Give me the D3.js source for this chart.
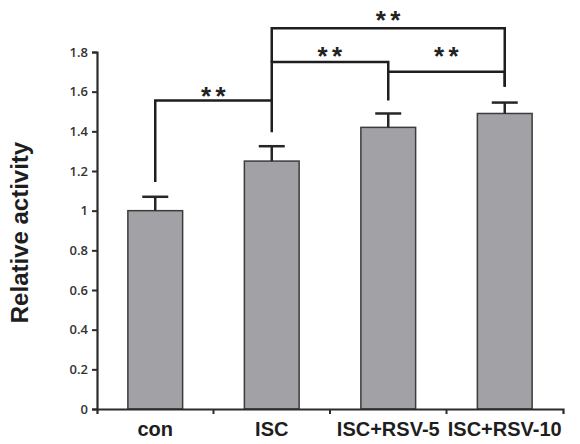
<!DOCTYPE html>
<html>
<head>
<meta charset="utf-8">
<script src="https://cdn.jsdelivr.net/npm/d3@7"></script>
<style>
  body { margin: 0; background: #fff; }
</style>
</head>
<body>
<div id="chart"></div>
<script>
// Data
const groups = ["con", "ISC", "ISC+RSV-5", "ISC+RSV-10"];
const means = [1.0, 1.25, 1.42, 1.49];
const errors = [0.07, 0.075, 0.07, 0.055];
const yTicks = [0, 0.2, 0.4, 0.6, 0.8, 1, 1.2, 1.4, 1.6, 1.8];

// significance brackets (values in y units)
const bracketFrom = ["con", "ISC", "ISC", "ISC+RSV-5"];
const bracketTo = ["ISC", "ISC+RSV-5", "ISC+RSV-10", "ISC+RSV-10"];
const bracketLevel = [1.555, 1.75, 1.92, 1.70];
const bracketFromEnd = [1.145, 1.555, 1.75, 1.70];
const bracketToEnd = [1.395, 1.555, 1.625, 1.625];
const bracketStarY = [1.61, 1.81, 1.99, 1.81];
const bracketLabel = ["**", "**", "**", "**"];

const width = 580, height = 444;
const margin = { top: 52, right: 17, bottom: 35, left: 97 };

const svg = d3.select("#chart")
  .append("svg")
  .attr("width", width)
  .attr("height", height);

const x = d3.scaleBand()
  .domain(groups)
  .range([margin.left, width - margin.right])
  .padding(0);

const y = d3.scaleLinear()
  .domain([0, 1.8])
  .range([height - margin.bottom, margin.top]);

const barW = x.bandwidth() * 0.47;
const cx = g => x(g) + x.bandwidth() / 2;

// bars
svg.append("g")
  .selectAll("rect")
  .data(groups)
  .enter().append("rect")
  .attr("x", d => cx(d) - barW / 2)
  .attr("y", (d, i) => y(means[i]))
  .attr("width", barW)
  .attr("height", (d, i) => y(0) - y(means[i]))
  .attr("fill", "#a2a2a6")
  .attr("stroke", "#3c3c3c")
  .attr("stroke-width", 1.5);

// error bars (upper only)
const err = svg.append("g")
  .attr("stroke", "#262626")
  .attr("stroke-width", 2.5);

groups.forEach((g, i) => {
  err.append("line")
    .attr("x1", cx(g)).attr("x2", cx(g))
    .attr("y1", y(means[i])).attr("y2", y(means[i] + errors[i]));
  err.append("line")
    .attr("x1", cx(g) - 13).attr("x2", cx(g) + 13)
    .attr("y1", y(means[i] + errors[i])).attr("y2", y(means[i] + errors[i]));
});

// y axis
const yAxis = svg.append("g")
  .attr("transform", `translate(${margin.left},0)`)
  .call(d3.axisLeft(y)
    .tickValues(yTicks)
    .tickFormat(d => String(+d.toFixed(1)))
    .tickSize(5)
    .tickPadding(4));

// x axis: labels at band centres, ticks at band edges
const xAxis = svg.append("g")
  .attr("transform", `translate(0,${y(0)})`)
  .call(d3.axisBottom(x).tickSize(0).tickSizeOuter(5).tickPadding(12));

xAxis.selectAll(".tick text")
  .attr("dy", "0.75em")
  .attr("font-family", "Liberation Sans, Arial, sans-serif")
  .attr("font-weight", "bold")
  .attr("font-size", 20)
  .attr("fill", "#1e1e1e");

xAxis.selectAll(".edge")
  .data(groups.slice(1))
  .enter().append("line")
  .attr("class", "edge")
  .attr("x1", d => x(d)).attr("x2", d => x(d))
  .attr("y1", 0).attr("y2", 5)
  .attr("stroke", "#2b2b2b")
  .attr("stroke-width", 2);

[yAxis, xAxis].forEach(a => {
  a.select(".domain").attr("stroke", "#2b2b2b").attr("stroke-width", 2.2);
  a.selectAll(".tick line").attr("stroke", "#2b2b2b").attr("stroke-width", 2);
});

yAxis.selectAll(".tick text")
  .attr("font-family", "Open Sans, sans-serif")
  .attr("font-weight", 600)
  .attr("font-size", 13)
  .attr("fill", "#333");

// y title
svg.append("text")
  .attr("transform", `translate(28,${(y(0) + y(1.8)) / 2 + 2}) rotate(-90)`)
  .attr("text-anchor", "middle")
  .attr("font-family", "Liberation Sans, Arial, sans-serif")
  .attr("font-weight", "bold")
  .attr("font-size", 24)
  .attr("fill", "#1e1e1e")
  .text("Relative activity");

// significance brackets
const br = svg.append("g")
  .attr("stroke", "#1e1e1e")
  .attr("stroke-width", 2.5)
  .attr("fill", "none");

bracketFrom.forEach((f, i) => {
  const x1 = cx(f), x2 = cx(bracketTo[i]);
  br.append("path")
    .attr("d", `M${x1},${y(bracketFromEnd[i])}V${y(bracketLevel[i])}H${x2}V${y(bracketToEnd[i])}`);
  svg.append("text")
    .attr("x", (x1 + x2) / 2 + 2)
    .attr("y", y(bracketStarY[i]) + 15)
    .attr("text-anchor", "middle")
    .attr("font-family", "Liberation Sans, Arial, sans-serif")
    .attr("font-weight", "bold")
    .attr("font-size", 26)
    .attr("letter-spacing", 4.5)
    .attr("fill", "#222")
    .text(bracketLabel[i]);
});
</script>
</body>
</html>
